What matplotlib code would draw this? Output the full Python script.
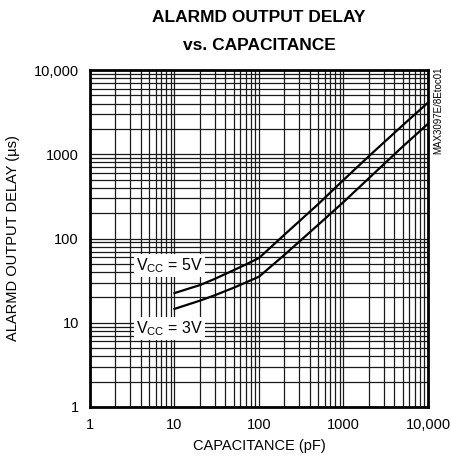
import matplotlib
matplotlib.use("Agg")
import matplotlib.pyplot as plt
import numpy as np

plt.rcParams['font.family'] = ['Liberation Sans', 'DejaVu Sans']
plt.rcParams['mathtext.fontset'] = 'custom'
plt.rcParams['mathtext.rm'] = 'Liberation Sans'

# data
cap_5v = [10, 20, 30, 50, 70, 100, 200, 500, 1000, 2000, 5000, 10000]
delay_5v = [22.5, 28, 33.2, 42, 49.2, 58.7, 111, 255, 495, 950, 2200, 4100]
cap_3v = [10, 20, 30, 50, 70, 100, 200, 500, 1000, 2000, 5000, 10000]
delay_3v = [14.6, 18.3, 21.2, 26, 30.1, 35.2, 64, 145, 271, 520, 1230, 2300]

x_ticks = [1, 10, 100, 1000, 10000]
x_tick_labels = ['1', '10', '100', '1000', '10,000']
y_ticks = [1, 10, 100, 1000, 10000]
y_tick_labels = ['1', '10', '100', '1000', '10,000']

fig = plt.figure(figsize=(4.52, 4.71), dpi=100)
ax = fig.add_axes([90/452, 1-407/471, 338/452, 337/471])
ax.set_xscale('log')
ax.set_yscale('log')
ax.set_xlim(1, 10000)
ax.set_ylim(1, 10000)

ax.plot(cap_5v, delay_5v, color='black', lw=1.6, zorder=3)
ax.plot(cap_3v, delay_3v, color='black', lw=1.6, zorder=3)

ax.set_xticks(x_ticks)
ax.set_xticklabels(x_tick_labels)
ax.set_yticks(y_ticks)
ax.set_yticklabels(y_tick_labels)
ax.xaxis.set_minor_locator(matplotlib.ticker.LogLocator(base=10, subs=np.arange(2, 10)))
ax.yaxis.set_minor_locator(matplotlib.ticker.LogLocator(base=10, subs=np.arange(2, 10)))
ax.xaxis.set_minor_formatter(matplotlib.ticker.NullFormatter())
ax.yaxis.set_minor_formatter(matplotlib.ticker.NullFormatter())
ax.tick_params(which='both', length=0, labelsize=10.5, pad=8)
ax.grid(True, which='both', color='#1a1a1a', lw=0.9)
for s in ax.spines.values():
    s.set_linewidth(2)
    s.set_zorder(4)

ax.set_xlabel('CAPACITANCE (pF)', fontsize=10.5, labelpad=5)
ax.set_ylabel('ALARMD OUTPUT DELAY (µs)', fontsize=10.5, labelpad=10)

bbox = dict(facecolor='white', edgecolor='none', pad=1.5)
ax.text(8.8, 48, r'V$_{\mathrm{CC}}$ = 5V', fontsize=11.5,
        ha='center', va='center', bbox=bbox, zorder=5)
ax.text(8.8, 8.6, r'V$_{\mathrm{CC}}$ = 3V', fontsize=11.5,
        ha='center', va='center', bbox=bbox, zorder=5)

fig.text(259/452, 1-18/471, 'ALARMD OUTPUT DELAY', fontsize=12.5, fontweight='bold',
         ha='center', va='center')
fig.text(259/452, 1-45/471, 'vs. CAPACITANCE', fontsize=12.5, fontweight='bold',
         ha='center', va='center')
fig.text(438/452, 1-110/471, 'MAX3097E/8Etoc01', fontsize=7, rotation=90,
         ha='center', va='center')

fig.savefig('out.png', dpi=100)
